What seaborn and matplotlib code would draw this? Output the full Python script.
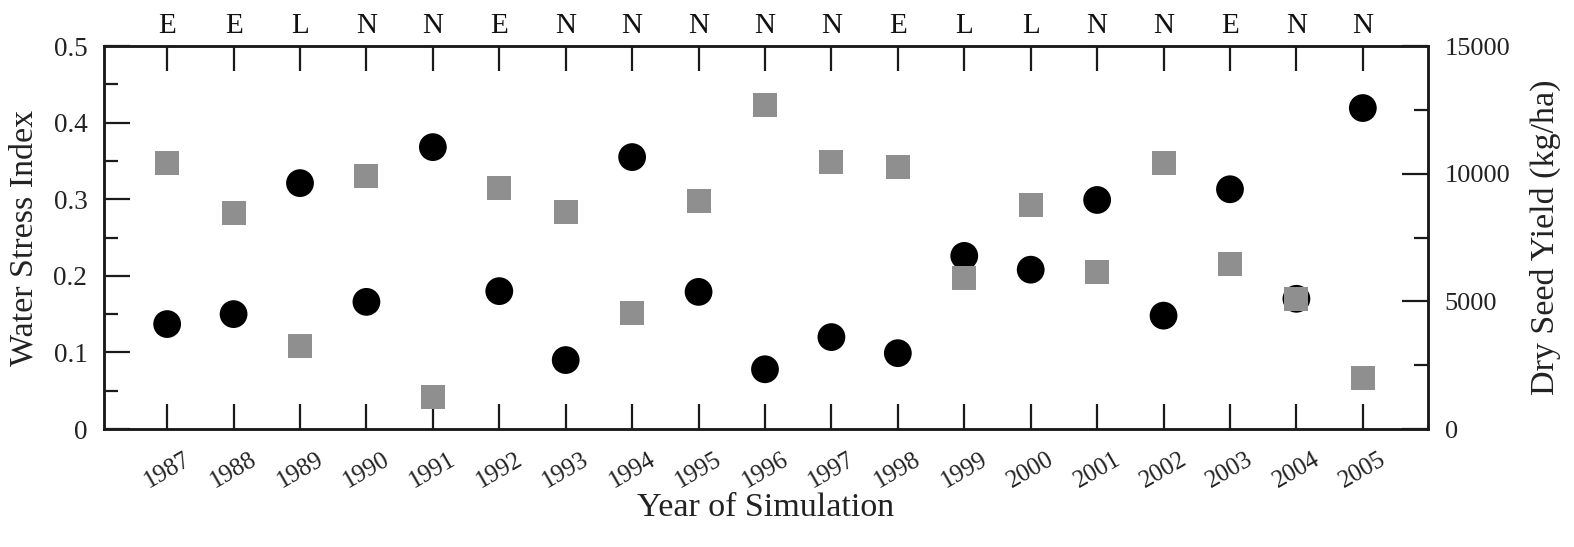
import matplotlib
matplotlib.use("Agg")
import matplotlib.pyplot as plt
import seaborn as sns
import numpy as np
import pandas as pd
from matplotlib.ticker import MultipleLocator

years = [1987, 1988, 1989, 1990, 1991, 1992, 1993, 1994, 1995, 1996,
         1997, 1998, 1999, 2000, 2001, 2002, 2003, 2004, 2005]
enso = ["E", "E", "L", "N", "N", "E", "N", "N", "N", "N",
        "N", "E", "L", "L", "N", "N", "E", "N", "N"]
water_stress = [0.137, 0.150, 0.321, 0.166, 0.368, 0.180, 0.090, 0.355, 0.179, 0.078,
                0.120, 0.099, 0.226, 0.208, 0.299, 0.148, 0.313, 0.170, 0.419]
seed_yield = [10400, 8450, 3250, 9900, 1250, 9450, 8500, 4550, 8930, 12700,
              10450, 10250, 5900, 8780, 6150, 10400, 6450, 5100, 2000]

df = pd.DataFrame({"idx": np.arange(len(years)), "year": years,
                   "ws": water_stress, "yield": seed_yield})

sns.set_theme(style="white")
plt.rcParams["font.family"] = ["Liberation Serif", "DejaVu Serif"]

fig = plt.figure(figsize=(15.74, 5.47), dpi=100)
ax = fig.add_axes([0.0661, 0.2157, 0.9072 - 0.0661, 0.9159 - 0.2157])
ax2 = ax.twinx()

sns.scatterplot(data=df, x="idx", y="ws", ax=ax, marker="o", s=400,
                color="black", edgecolor="none", legend=False)
sns.scatterplot(data=df, x="idx", y="yield", ax=ax2, marker="s", s=300,
                color="#8f8f8f", edgecolor="none", legend=False)

ax.set_xlim(-0.95, len(years) - 1 + 0.98)
ax.set_ylim(0, 0.5)
ax2.set_ylim(0, 15000)

lw = 1.8
for a in (ax, ax2):
    for sp in a.spines.values():
        sp.set_linewidth(lw)
        sp.set_color("#1a1a1a")

ax.yaxis.set_minor_locator(MultipleLocator(0.05))
ax.set_yticks([0, 0.1, 0.2, 0.3, 0.4, 0.5])
ax.set_yticklabels(["0", "0.1", "0.2", "0.3", "0.4", "0.5"])
ax2.yaxis.set_major_locator(MultipleLocator(5000))
ax2.yaxis.set_minor_locator(MultipleLocator(2500))

ax.set_xticks(df["idx"])
ax.set_xticklabels([str(y) for y in years], rotation=30, ha="center")
ax.tick_params(axis="x", which="major", direction="in", length=18, width=1.6,
               top=True, bottom=True, labelsize=18, pad=14, color="#1a1a1a",
               labelcolor="#222222")
ax.tick_params(axis="y", which="major", direction="in", length=19, width=1.6,
               left=True, right=False, labelsize=19.5, pad=12, color="#1a1a1a",
               labelcolor="#222222")
ax.tick_params(axis="y", which="minor", direction="in", length=10, width=1.6,
               left=True, right=False, color="#1a1a1a")
ax2.tick_params(axis="y", which="major", direction="in", length=19, width=1.6,
                right=True, labelsize=19, pad=12, color="#1a1a1a",
                labelcolor="#222222")
ax2.tick_params(axis="y", which="minor", direction="in", length=10, width=1.6,
                right=True, color="#1a1a1a")

sec = ax.secondary_xaxis("top")
sec.set_xticks(df["idx"])
sec.set_xticklabels(enso)
sec.tick_params(axis="x", length=0, labelsize=21, pad=5, labelcolor="#111111")
sec.spines["top"].set_visible(False)

ax.set_xlabel("Year of Simulation", fontsize=24.5, labelpad=0, color="#222222")
ax.set_ylabel("Water Stress Index", fontsize=24.5, labelpad=10, color="#222222")
ax2.set_ylabel("Dry Seed Yield (kg/ha)", fontsize=24.5, labelpad=14, color="#222222")
ax.grid(False)
ax2.grid(False)

fig.savefig("out.png", dpi=100)
